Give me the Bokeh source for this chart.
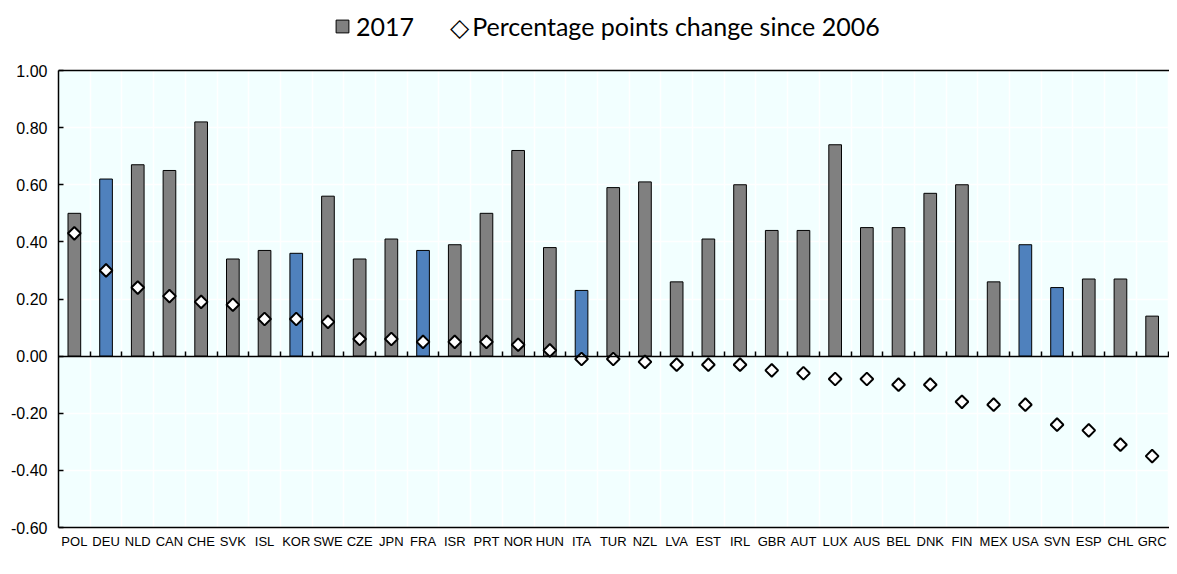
import math
from bokeh.plotting import figure
from bokeh.models import (Range1d, FixedTicker, LinearAxis, NumeralTickFormatter, Span,
                          Legend, LegendItem, ColumnDataSource, Grid, BoxAnnotation)
from bokeh.core.properties import value
from bokeh.embed import file_html
from bokeh.resources import INLINE

# ---------------- data ----------------
countries = ["POL", "DEU", "NLD", "CAN", "CHE", "SVK", "ISL", "KOR", "SWE", "CZE",
             "JPN", "FRA", "ISR", "PRT", "NOR", "HUN", "ITA", "TUR", "NZL", "LVA",
             "EST", "IRL", "GBR", "AUT", "LUX", "AUS", "BEL", "DNK", "FIN", "MEX",
             "USA", "SVN", "ESP", "CHL", "GRC"]
share_2017 = [0.50, 0.62, 0.67, 0.65, 0.82, 0.34, 0.37, 0.36, 0.56, 0.34,
              0.41, 0.37, 0.39, 0.50, 0.72, 0.38, 0.23, 0.59, 0.61, 0.26,
              0.41, 0.60, 0.44, 0.44, 0.74, 0.45, 0.45, 0.57, 0.60, 0.26,
              0.39, 0.24, 0.27, 0.27, 0.14]
change_since_2006 = [0.43, 0.30, 0.24, 0.21, 0.19, 0.18, 0.13, 0.13, 0.12, 0.06,
                     0.06, 0.05, 0.05, 0.05, 0.04, 0.02, -0.01, -0.01, -0.02, -0.03,
                     -0.03, -0.03, -0.05, -0.06, -0.08, -0.08, -0.10, -0.10, -0.16, -0.17,
                     -0.17, -0.24, -0.26, -0.31, -0.35]
highlighted = ["DEU", "KOR", "FRA", "ITA", "USA", "SVN"]
y_ticks = [-0.6, -0.4, -0.2, 0.0, 0.2, 0.4, 0.6, 0.8, 1.0]
legend_labels = ["2017", "Percentage points change since 2006"]

# ---------------- style / layout ----------------
GRAY = "#808080"
BLUE = "#4F81BD"
BG = "#F2FFFF"
TICK_FONT = "Liberation Sans"
LEG_FONT = "Lato"

W, H = 1169, 558
LEFT = 58
PLOT_TOP, PLOT_BOTTOM = 70, 527          # canvas pixels of y = 1.0 and y = -0.6
frame_w = W - LEFT
cat_px = 31.7
x_end = -0.5 + frame_w / cat_px
y_lo, y_hi = y_ticks[0], y_ticks[-1]
px_per_unit = (PLOT_BOTTOM - PLOT_TOP) / (y_hi - y_lo)
range_top = y_hi + PLOT_TOP / px_per_unit
range_bottom = y_lo - (H - PLOT_BOTTOM) / px_per_unit

idx = list(range(len(countries)))
colors = [BLUE if c in highlighted else GRAY for c in countries]
src = ColumnDataSource(dict(x=idx, top=share_2017, chg=change_since_2006, color=colors,
                            name=countries, base=[y_lo] * len(countries)))

p = figure(width=W, height=H, output_backend="svg", toolbar_location=None, tools="",
           x_range=Range1d(-0.5, x_end), y_range=Range1d(range_bottom, range_top),
           x_axis_location=None, y_axis_location=None,
           min_border_left=LEFT, min_border_right=0, min_border_top=0,
           min_border_bottom=0, background_fill_color="white",
           border_fill_color="white", outline_line_color=None)
p.grid.visible = False

p.add_layout(BoxAnnotation(bottom=y_lo, top=y_hi, fill_color=BG, fill_alpha=1,
                           line_color=None, level="underlay"))

boundaries = [i + 0.5 for i in idx]
p.add_layout(Grid(dimension=0, ticker=FixedTicker(ticks=boundaries),
                  grid_line_color="white", grid_line_width=1.5, level="underlay"))
p.add_layout(Grid(dimension=1, ticker=FixedTicker(ticks=y_ticks),
                  grid_line_color="white", grid_line_width=1.5, level="underlay"))

bars = p.vbar(x="x", top="top", bottom=0, width=0.4, fill_color="color",
              line_color="black", line_width=1, source=src)
p.scatter(x="x", y="chg", marker="square", angle=math.pi / 4, size=9,
          fill_color="white", line_color="black", line_width=2, source=src)
dummy = p.scatter(x=[], y=[], marker="square", size=1, fill_alpha=0, line_alpha=0)

# category labels below the plot area
p.text(x="x", y="base", text="name", source=src,
       text_align="center", text_baseline="top", y_offset=6,
       text_font=value(TICK_FONT), text_font_size="13px", text_color="black")

yaxis = LinearAxis(ticker=FixedTicker(ticks=y_ticks), bounds=(y_lo, y_hi),
                   formatter=NumeralTickFormatter(format="0.00"),
                   major_tick_in=5, major_tick_out=0, minor_tick_line_color=None,
                   axis_line_width=1.5, major_tick_line_width=1.5,
                   major_label_standoff=11, major_label_text_font=TICK_FONT,
                   major_label_text_font_size="16px", major_label_text_color="black")
p.add_layout(yaxis, "left")

zero_axis = LinearAxis(ticker=FixedTicker(ticks=boundaries), fixed_location=0,
                       major_tick_in=5, major_tick_out=0, major_tick_line_width=1.5,
                       minor_tick_line_color=None, axis_line_width=1.5,
                       major_label_text_color=None, major_label_text_font_size="1px")
p.add_layout(zero_axis, "below")

p.add_layout(Span(location=y_hi, dimension="width", line_color="black", line_width=1.5))
p.add_layout(Span(location=y_lo, dimension="width", line_color="black", line_width=1.5))

LEG_ROW_CENTER = 27   # canvas px
LEG_H = 29
legend = Legend(items=[LegendItem(label=legend_labels[0], renderers=[bars]),
                       LegendItem(label="\u25c7\u2009" + legend_labels[1], renderers=[dummy])],
                orientation="horizontal",
                location=(276, H - LEG_ROW_CENTER - LEG_H / 2),
                glyph_width=16, glyph_height=16, label_standoff=6, spacing=14,
                padding=0, margin=0, border_line_color=None, background_fill_alpha=0,
                label_text_font=LEG_FONT, label_text_font_size="25px",
                label_text_color="black")
p.add_layout(legend)

open("out.html", "w").write(file_html(p, INLINE))
